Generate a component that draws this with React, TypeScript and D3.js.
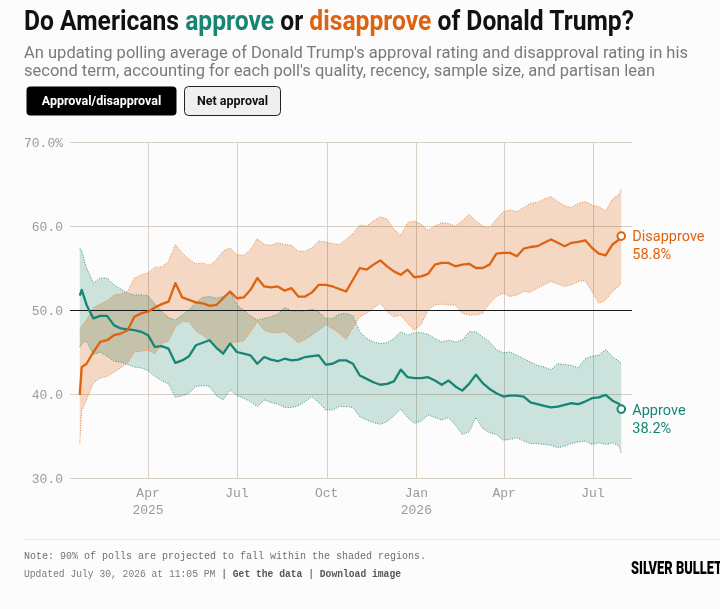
import * as d3 from 'd3';

// weekly readings of the polling average, starting at inauguration week
const START = new Date(2025, 0, 21);
const dayOffsets = [0, 2, ...d3.range(7, 554, 7), 555];
const dates = dayOffsets.map((d) => d3.timeDay.offset(START, d));

const approve = [
  51.7, 52.4, 50.6, 49.0, 49.3, 49.3, 48.2, 47.8, 47.7, 47.6,
  47.4, 47.0, 45.6, 45.7, 45.4, 43.7, 44.0, 44.5, 45.8, 46.1,
  46.4, 45.5, 44.8, 46.0, 45.0, 44.8, 44.6, 43.6, 44.4, 44.1,
  43.9, 44.2, 44.0, 44.1, 44.4, 44.5, 44.6, 43.5, 43.6, 44.0,
  44.0, 43.6, 42.2, 41.8, 41.4, 41.1, 41.2, 41.5, 42.9, 42.0,
  41.9, 41.9, 42.0, 41.6, 41.1, 41.6, 40.9, 40.4, 41.2, 42.3,
  41.3, 40.6, 40.1, 39.7, 39.8, 39.8, 39.7, 39.0, 38.8, 38.6,
  38.4, 38.5, 38.7, 38.9, 38.8, 39.1, 39.5, 39.6, 39.9, 39.2,
  38.8, 38.2,
];
const approveHigh = [
  57.4, 57.0, 55.0, 53.2, 53.8, 53.8, 53.0, 52.5, 52.0, 51.8,
  51.8, 51.7, 50.7, 49.8, 49.1, 48.8, 49.4, 50.0, 50.9, 51.5,
  51.6, 51.4, 51.6, 52.2, 50.6, 50.0, 49.3, 48.8, 49.0, 49.2,
  49.5, 50.3, 49.9, 49.8, 49.9, 50.1, 49.8, 49.0, 49.0, 49.5,
  49.6, 49.3, 47.4, 46.6, 46.2, 46.0, 46.1, 46.6, 47.4, 47.0,
  47.3, 47.3, 47.1, 46.6, 46.2, 46.4, 46.2, 46.4, 47.4, 47.4,
  46.8, 46.2, 45.3, 44.9, 45.0, 44.6, 44.2, 43.8, 43.4, 43.2,
  42.9, 43.6, 43.5, 43.4, 43.1, 44.2, 44.5, 44.6, 45.3, 44.4,
  43.9, 43.6,
];
const approveLow = [
  45.6, 46.0, 46.3, 44.7, 45.0, 44.5, 43.9, 43.8, 43.5, 43.2,
  43.1, 42.8, 42.1, 41.6, 41.2, 39.6, 39.8, 40.1, 40.9, 41.0,
  40.9, 39.8, 39.3, 40.5, 39.8, 39.5, 39.1, 38.5, 39.3, 39.0,
  38.8, 38.4, 38.4, 38.6, 39.1, 39.7, 39.0, 38.1, 38.1, 38.5,
  38.5, 38.4, 37.3, 36.9, 36.6, 36.4, 36.7, 37.4, 38.2, 37.2,
  36.5, 36.8, 37.5, 37.2, 36.9, 37.2, 36.3, 35.2, 35.5, 37.2,
  35.9, 35.4, 35.2, 34.5, 34.6, 34.8, 34.4, 34.1, 34.1, 34.0,
  33.9, 33.6, 33.8, 34.1, 34.3, 34.4, 34.0, 34.2, 34.0, 34.2,
  33.8, 32.9,
];
const disapprove = [
  39.9, 43.2, 43.6, 45.0, 46.2, 46.4, 47.0, 47.2, 47.6, 49.2,
  49.6, 49.8, 50.3, 50.7, 51.0, 53.2, 51.5, 51.2, 50.9, 50.8,
  50.5, 50.6, 51.4, 52.2, 51.4, 51.5, 52.4, 53.8, 52.8, 52.7,
  52.8, 52.3, 52.6, 51.6, 51.6, 52.1, 53.0, 53.0, 52.8, 52.5,
  52.2, 53.6, 55.0, 54.8, 55.4, 55.9, 55.2, 54.6, 54.2, 54.8,
  53.9, 54.0, 54.3, 55.4, 55.6, 55.6, 55.2, 55.4, 55.5, 55.0,
  55.0, 55.4, 56.7, 56.8, 56.8, 56.4, 57.3, 57.5, 57.6, 58.0,
  58.4, 58.0, 57.6, 58.0, 58.1, 58.3, 57.4, 56.7, 56.5, 57.8,
  58.4, 58.8,
];
const disapproveHigh = [
  47.8, 48.0, 48.8, 50.3, 50.7, 51.1, 51.8, 51.9, 52.2, 53.8,
  54.2, 54.4, 55.1, 55.1, 55.8, 57.8, 56.8, 56.0, 55.5, 55.6,
  55.3, 56.0, 57.0, 57.4, 56.6, 56.5, 57.2, 58.5, 57.8, 57.7,
  58.0, 57.8, 57.7, 57.0, 57.0, 57.4, 58.2, 58.1, 57.9, 57.8,
  58.4, 59.1, 60.1, 60.0, 60.6, 61.1, 60.8, 59.6, 58.9, 60.4,
  60.6, 60.2, 59.5, 60.0, 60.4, 60.3, 60.0, 60.6, 61.4, 60.6,
  60.0, 59.8, 60.8, 61.7, 61.9, 61.7, 62.2, 62.7, 62.8, 63.2,
  63.5, 62.9, 62.4, 62.2, 62.7, 62.9, 62.5, 62.3, 61.8, 63.2,
  63.8, 64.4,
];
const disapproveLow = [
  34.1, 38.0, 39.3, 41.3, 41.9, 42.1, 42.6, 43.1, 43.7, 45.0,
  45.1, 45.2, 44.8, 46.0, 46.3, 48.0, 48.6, 48.6, 47.5, 47.0,
  46.4, 45.6, 45.1, 46.0, 46.2, 46.3, 47.4, 48.6, 47.6, 47.3,
  47.3, 47.4, 46.8, 46.1, 46.5, 47.0, 47.6, 48.2, 47.8, 47.2,
  46.5, 47.9, 49.2, 49.6, 50.2, 50.8, 49.8, 49.2, 49.4, 48.4,
  47.6, 48.3, 50.0, 50.6, 50.7, 50.6, 50.6, 49.6, 49.4, 49.4,
  49.6, 50.8, 51.6, 52.0, 51.6, 51.8, 52.2, 52.1, 52.6, 53.0,
  53.4, 53.1, 52.8, 53.0, 53.4, 53.5, 52.2, 50.8, 51.2, 52.2,
  52.9, 53.2,
];

const xTicks = [
  new Date(2025, 3, 1), new Date(2025, 6, 1), new Date(2025, 9, 1),
  new Date(2026, 0, 1), new Date(2026, 3, 1), new Date(2026, 6, 1),
];
const yTicks = [30, 40, 50, 60, 70];

const TEAL = '#178574';
const ORANGE = '#dd6310';
const SANS = 'Roboto, "Noto Sans", sans-serif';
const MONO = '"Liberation Mono", "DejaVu Sans Mono", monospace';

export default function App() {
  const W = 720;
  const H = 609;
  const x = d3.scaleTime().domain([new Date(2025, 0, 11), new Date(2026, 7, 10)]).range([70, 632]);
  const y = d3.scaleLinear().domain([30, 70]).range([478, 142]);

  const line = (vals: number[]) =>
    d3.line<number>().x((_, i) => x(dates[i])).y((v) => y(v))(vals) || '';
  const band = (lo: number[], hi: number[]) =>
    d3.area<number>().x((_, i) => x(dates[i])).y0((_, i) => y(lo[i])).y1((v) => y(v))(hi) || '';

  const last = dates.length - 1;
  const xEnd = x(dates[last]);
  const fmtMonth = d3.timeFormat('%b');
  const crisp = (v: number) => Math.round(v) + 0.5;

  return (
    <svg
      width={W}
      height={H}
      style={{ position: 'absolute', left: 0, top: 0, background: '#fcfcfc' }}
    >
      {/* header */}
      <text x={24} y={30} fontFamily={SANS} fontWeight={700} fontSize={27} fill="#111"
        textLength={610} lengthAdjust="spacingAndGlyphs">
        Do Americans <tspan fill={TEAL}>approve</tspan> or{' '}
        <tspan fill={ORANGE}>disapprove</tspan> of Donald Trump?
      </text>
      <text x={24} y={58} fontFamily={SANS} fontSize={16.5} fill="#7a7a7a"
        textLength={664} lengthAdjust="spacingAndGlyphs">
        An updating polling average of Donald Trump's approval rating and disapproval rating in his
      </text>
      <text x={24} y={76} fontFamily={SANS} fontSize={16.5} fill="#7a7a7a"
        textLength={631} lengthAdjust="spacingAndGlyphs">
        second term, accounting for each poll's quality, recency, sample size, and partisan lean
      </text>

      <rect x={26.5} y={86.5} width={150} height={29} rx={4} fill="#000" />
      <text x={101.5} y={105} textAnchor="middle" fontFamily={SANS} fontWeight={700}
        fontSize={12.5} fill="#fff">Approval/disapproval</text>
      <rect x={184.5} y={86.5} width={96} height={29} rx={4} fill="#efefef" stroke="#222" />
      <text x={232.5} y={105} textAnchor="middle" fontFamily={SANS} fontWeight={700}
        fontSize={12.5} fill="#111">Net approval</text>

      {/* grid */}
      {yTicks.map((t) => (
        <g key={'y' + t}>
          {t !== 50 && (
            <line x1={70} x2={632} y1={crisp(y(t))} y2={crisp(y(t))} stroke="#d8d0c4" />
          )}
          <text x={63} y={y(t) + 4.5} textAnchor="end" fontFamily={MONO} fontSize={13}
            fill="#9a9a9a">{t === 70 ? '70.0%' : t.toFixed(1)}</text>
        </g>
      ))}
      {xTicks.map((t, i) => (
        <g key={'x' + i}>
          <line x1={crisp(x(t))} x2={crisp(x(t))} y1={142} y2={478} stroke="#d8d0c4" />
          <text x={x(t)} y={497} textAnchor="middle" fontFamily={MONO} fontSize={13}
            fill="#9a9a9a">{fmtMonth(t)}</text>
          {(i === 0 || t.getMonth() === 0) && (
            <text x={x(t)} y={514} textAnchor="middle" fontFamily={MONO} fontSize={13}
              fill="#9a9a9a">{t.getFullYear()}</text>
          )}
        </g>
      ))}

      {/* uncertainty bands */}
      <path d={band(approveLow, approveHigh)} fill="#cfe5e0" style={{ mixBlendMode: 'multiply' }} />
      <path d={band(disapproveLow, disapproveHigh)} fill="#f7dbc6" style={{ mixBlendMode: 'multiply' }} />
      {[approveLow, approveHigh].map((s, i) => (
        <path key={'ab' + i} d={line(s)} fill="none" stroke="#3f9586" strokeWidth={1}
          strokeDasharray="1 1.5" />
      ))}
      {[disapproveLow, disapproveHigh].map((s, i) => (
        <path key={'db' + i} d={line(s)} fill="none" stroke="#e68a45" strokeWidth={1}
          strokeDasharray="1 1.5" />
      ))}

      <line x1={70} x2={632} y1={crisp(y(50))} y2={crisp(y(50))} stroke="#1a1a1a" strokeWidth={1} />

      {/* averages */}
      <path d={line(approve)} fill="none" stroke={TEAL} strokeWidth={2.3} strokeLinejoin="round" />
      <path d={line(disapprove)} fill="none" stroke={ORANGE} strokeWidth={2.3} strokeLinejoin="round" />

      <circle cx={xEnd} cy={y(disapprove[last])} r={3.8} fill="#fff" stroke={ORANGE} strokeWidth={2} />
      <circle cx={xEnd} cy={y(approve[last])} r={3.8} fill="#fff" stroke={TEAL} strokeWidth={2} />

      <text x={xEnd + 11} y={y(disapprove[last]) + 5} fontFamily={SANS} fontSize={14.5} fill={ORANGE}>
        Disapprove
      </text>
      <text x={xEnd + 11} y={y(disapprove[last]) + 23} fontFamily={SANS} fontSize={14.5} fill={ORANGE}>
        {disapprove[last].toFixed(1)}%
      </text>
      <text x={xEnd + 11} y={y(approve[last]) + 6} fontFamily={SANS} fontSize={14.5} fill={TEAL}>
        Approve
      </text>
      <text x={xEnd + 11} y={y(approve[last]) + 24} fontFamily={SANS} fontSize={14.5} fill={TEAL}>
        {approve[last].toFixed(1)}%
      </text>

      {/* footer */}
      <line x1={24} x2={720} y1={539.5} y2={539.5} stroke="#e6e6e6" />
      <text x={24} y={559} fontFamily={MONO} fontSize={10.5} fill="#6f6f6f"
        textLength={402} lengthAdjust="spacingAndGlyphs">
        Note: 90% of polls are projected to fall within the shaded regions.
      </text>
      <text x={24} y={577} fontFamily={MONO} fontSize={10.5} fill="#7a7a7a" xmlSpace="preserve"
        textLength={377} lengthAdjust="spacingAndGlyphs">
        Updated July 30, 2026 at 11:05 PM <tspan fill="#333">|</tspan> <tspan fontWeight={700} fill="#555">Get the data</tspan> <tspan fill="#333">|</tspan> <tspan fontWeight={700} fill="#555">Download image</tspan>
      </text>
      <text x={631} y={574} fontFamily={SANS} fontWeight={900} fontSize={18} fill="#000"
        textLength={104} lengthAdjust="spacingAndGlyphs">
        SILVER BULLETIN
      </text>
    </svg>
  );
}
